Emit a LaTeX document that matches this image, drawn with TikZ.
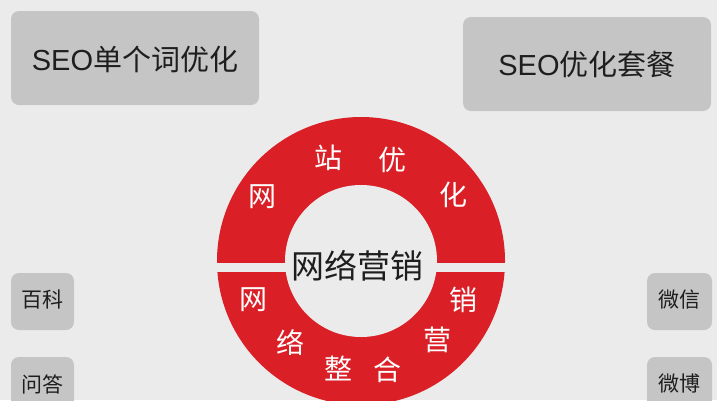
\documentclass[tikz,border=0pt]{standalone}
\usepackage{fontspec}
\setmainfont{Liberation Sans}
\newfontfamily\cjk{Noto Sans CJK SC}
\definecolor{bgc}{HTML}{EBEBEB}
\definecolor{boxc}{HTML}{C5C5C5}
\definecolor{ringred}{HTML}{DA1F26}
\definecolor{txtc}{HTML}{1E1E1E}
\begin{document}
\begin{tikzpicture}[x=1pt,y=-1pt,
  greybox/.style={fill=boxc,rounded corners=8pt},
  bigtxt/.style={text=txtc,font=\fontsize{29}{32}\selectfont,inner sep=0pt},
  smalltxt/.style={text=txtc,font=\cjk\fontsize{21}{24}\selectfont,inner sep=0pt},
  ringch/.style={text=white,font=\cjk\fontsize{28}{30}\selectfont,inner sep=0pt},
  centertxt/.style={text=txtc,font=\cjk\fontsize{33}{36}\selectfont,inner sep=0pt}]
\useasboundingbox (0,0) rectangle (717,400);
\clip (0,0) rectangle (717,400);
\fill[bgc] (0,0) rectangle (717,400);
% boxes
\fill[greybox] (11,11) rectangle (259,105);
\node[bigtxt] (seo1) at (135,59) {SEO{\cjk 单个词优化}};
\fill[greybox] (463,17) rectangle (711,111);
\node[bigtxt] (seo2) at (587,64) {SEO{\cjk 优化套餐}};
\fill[greybox] (11,273) rectangle (74,330);
\node[smalltxt] (baike) at (42.5,300) {百科};
\fill[greybox] (11,357) rectangle (74,420);
\node[smalltxt] (wenda) at (42.5,384) {问答};
\fill[greybox] (647,273) rectangle (712,330);
\node[smalltxt] (weixin) at (679.5,300) {微信};
\fill[greybox] (647,357) rectangle (712,420);
\node[smalltxt] (weibo) at (679.5,384) {微博};
% ring
\fill[ringred] (361,261) circle[radius=144];
\fill[bgc] (361,261) circle[radius=76];
\fill[bgc] (210,263) rectangle (512,272);
\node[centertxt] (center) at (357,266) {网络营销};
\node[ringch] (c1) at (262,197) {网};
\node[ringch] (c2) at (328,158) {站};
\node[ringch] (c3) at (392,160) {优};
\node[ringch] (c4) at (453,195) {化};
\node[ringch] (c5) at (253,300) {网};
\node[ringch] (c6) at (290,343) {络};
\node[ringch] (c7) at (338,368) {整};
\node[ringch] (c8) at (387,370) {合};
\node[ringch] (c9) at (437,340) {营};
\node[ringch] (c10) at (463,300) {销};
\end{tikzpicture}
\end{document}
